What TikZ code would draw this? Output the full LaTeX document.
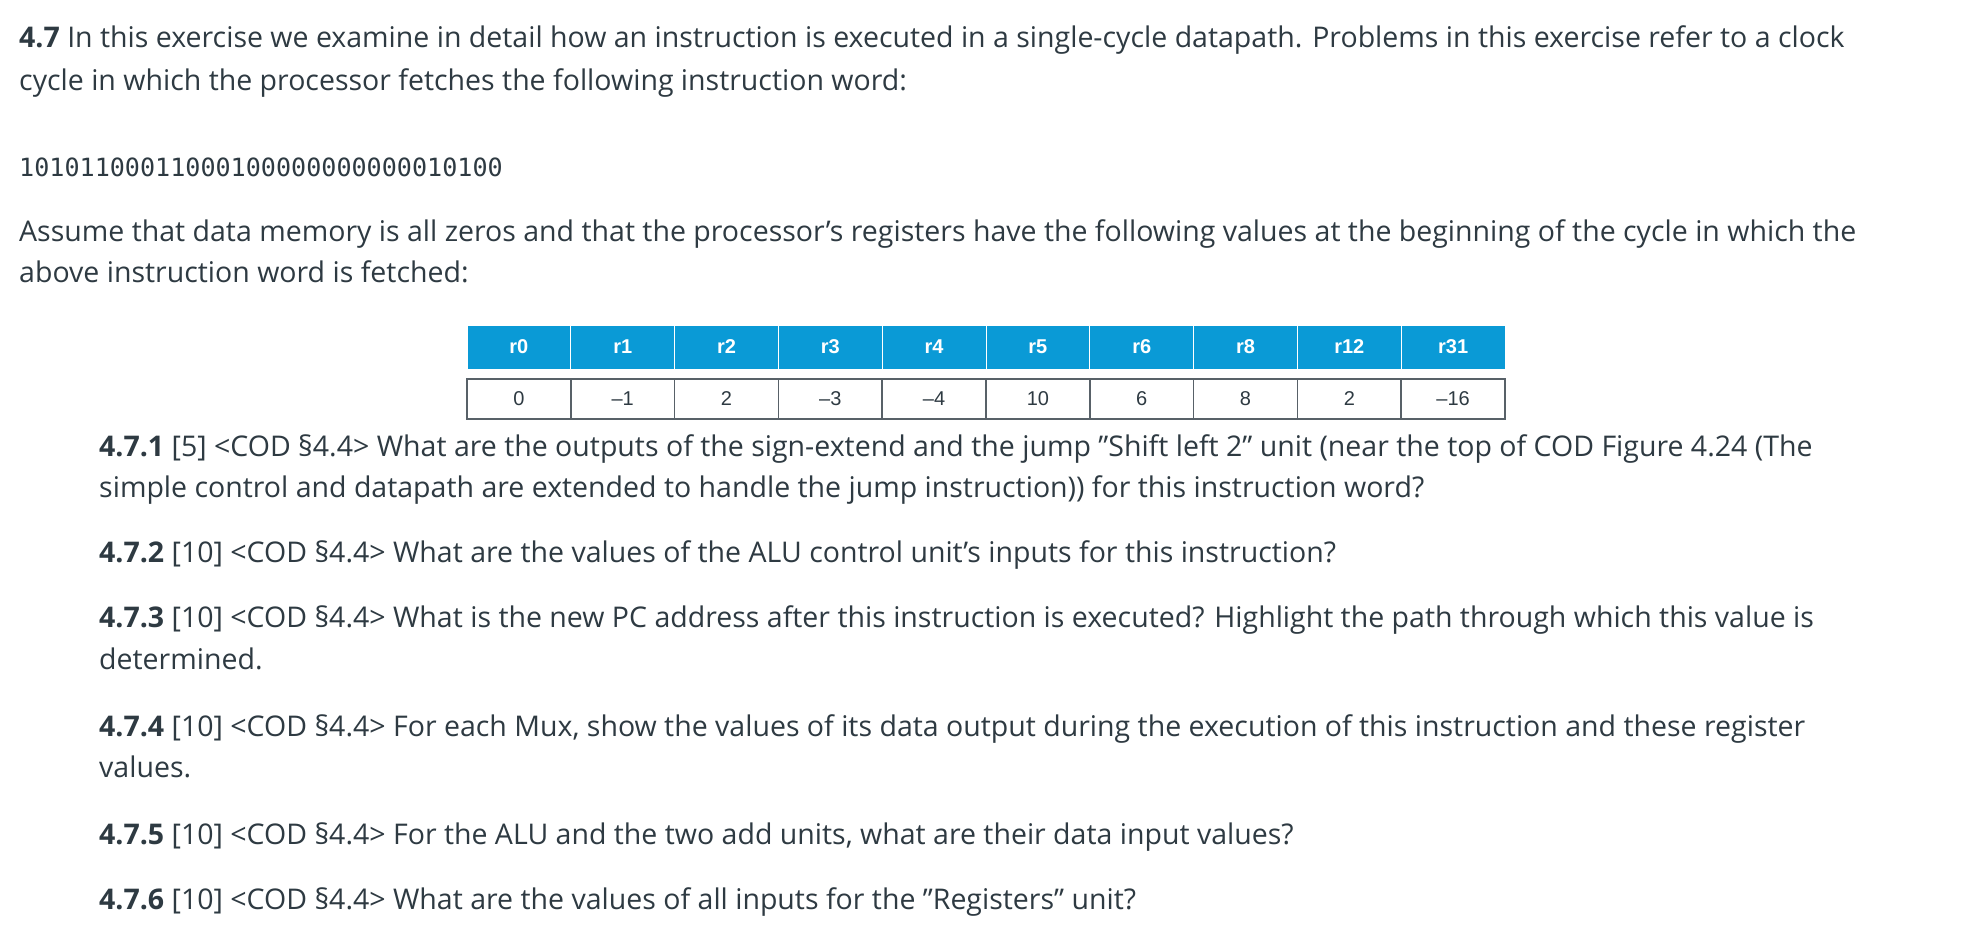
\documentclass[tikz,border=0pt]{standalone}
\usepackage{fontspec}
\setmainfont{Open Sans}
\setsansfont{Liberation Sans}
\newfontfamily\monof{DejaVu Sans Mono}
\definecolor{txt}{HTML}{2E3A42}
\definecolor{hdr}{HTML}{0A9AD6}
\newcommand{\dq}{{\char"22}}
\newcommand{\sq}{{\char"27}}
\tikzset{
 ln/.style={anchor=base west,inner sep=0pt,text=txt,font=\fontsize{28.5}{32}\selectfont},
 hcell/.style={fill=hdr,draw=white,line width=1pt,minimum width=103.8pt,minimum height=44pt,inner sep=0pt,text=white,font=\sffamily\fontsize{20}{22}\selectfont\bfseries},
 vcell/.style={draw=txt!80,line width=1.6pt,minimum width=103.8pt,minimum height=40pt,inner sep=0pt,text=txt,font=\sffamily\fontsize{20}{22}\selectfont}
}
\begin{document}
\begin{tikzpicture}[x=1pt,y=-1pt]
\useasboundingbox[fill=white] (0,0) rectangle (1964,948);
\node[ln] (l1) at (19,47) {\textbf{4.7} In this exercise we examine in detail how an instruction is executed in a single-cycle datapath. Problems in this exercise refer to a clock};
\node[ln] (l2) at (19,90) {cycle in which the processor fetches the following instruction word:};
\node[ln,font=\monof\fontsize{25.1}{28}\selectfont] (bin) at (19,176) {10101100011000100000000000010100};
\node[ln] (l3) at (19,241) {Assume that data memory is all zeros and that the processor\sq s registers have the following values at the beginning of the cycle in which the};
\node[ln] (l4) at (19,282) {above instruction word is fetched:};
\foreach \r/\v [count=\i from 0] in {r0/0,r1/--1,r2/2,r3/--3,r4/--4,r5/10,r6/6,r8/8,r12/2,r31/--16}{
  \node[hcell] (h\i) at (467+51.9+103.8*\i,347) {\r};
  \node[vcell] (v\i) at (467+51.9+103.8*\i,399) {\v};
}
\node[ln] (q1a) at (99,456) {\textbf{4.7.1} [5] <COD §4.4> What are the outputs of the sign-extend and the jump \dq Shift left 2\dq{} unit (near the top of COD Figure 4.24 (The};
\node[ln] (q1b) at (99,497) {simple control and datapath are extended to handle the jump instruction)) for this instruction word?};
\node[ln] (q2) at (99,562) {\textbf{4.7.2} [10] <COD §4.4> What are the values of the ALU control unit\sq s inputs for this instruction?};
\node[ln] (q3a) at (99,627) {\textbf{4.7.3} [10] <COD §4.4> What is the new PC address after this instruction is executed? Highlight the path through which this value is};
\node[ln] (q3b) at (99,669) {determined.};
\node[ln] (q4a) at (99,736) {\textbf{4.7.4} [10] <COD §4.4> For each Mux, show the values of its data output during the execution of this instruction and these register};
\node[ln] (q4b) at (99,777) {values.};
\node[ln] (q5) at (99,844) {\textbf{4.7.5} [10] <COD §4.4> For the ALU and the two add units, what are their data input values?};
\node[ln] (q6) at (99,909) {\textbf{4.7.6} [10] <COD §4.4> What are the values of all inputs for the \dq Registers\dq{} unit?};
\end{tikzpicture}
\end{document}
